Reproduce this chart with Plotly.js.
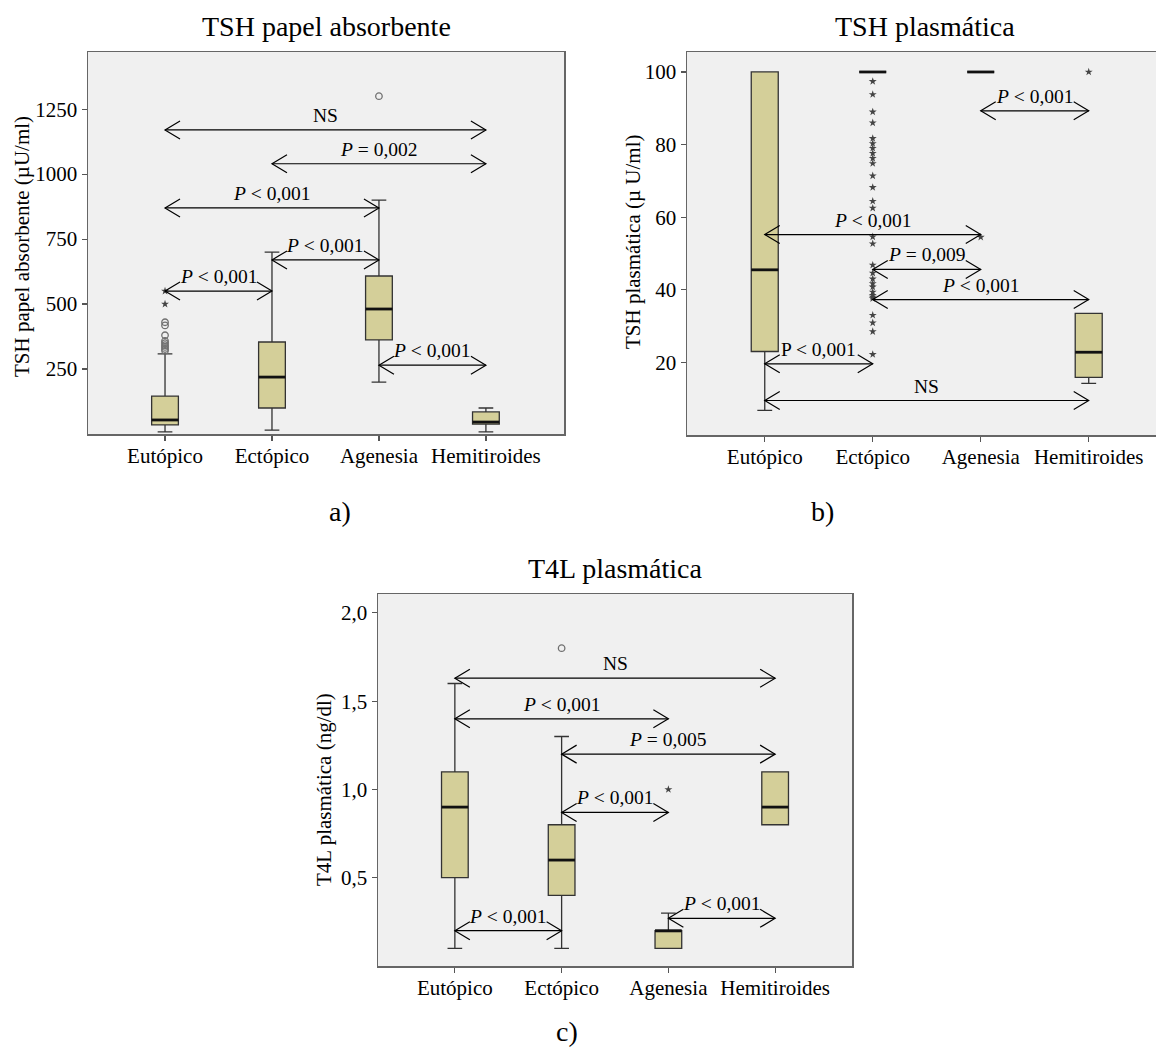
<!DOCTYPE html>
<html><head><meta charset="utf-8">
<script src="https://cdn.plot.ly/plotly-3.0.1.min.js"></script>
<style>html,body{margin:0;padding:0;background:#fff}#chart{width:1156px;height:1048px}</style>
</head><body><div id="chart"></div>
<script>
// ---------- DATA ----------
const categories = ['Eutópico', 'Ectópico', 'Agenesia', 'Hemitiroides'];

// a) TSH papel absorbente
const aQ1 = [35, 100, 362, 38];
const aMedian = [54, 219, 481, 46];
const aQ3 = [146, 354, 608, 85];
const aLow = [8, 15, 200, 8];
const aHigh = [308, 700, 900, 100];
const aCircleCat = [0, 0, 0, 0, 0, 0, 0, 0, 0, 2];
const aCircleVal = [430, 418, 380, 358, 350, 342, 335, 327, 320, 1300];
const aStarCat = [0, 0];
const aStarVal = [500, 550];
const aTickVals = [250, 500, 750, 1000, 1250];
const aTickText = ['250', '500', '750', '1000', '1250'];
const aCmpFrom = [0, 1, 0, 1, 0, 2];
const aCmpTo = [3, 3, 2, 2, 1, 3];
const aCmpY = [1170, 1040, 870, 670, 550, 265];
const aCmpLabel = ['NS', 'P = 0,002', 'P < 0,001', 'P < 0,001', 'P < 0,001', 'P < 0,001'];
const aCmpItalic = [true, true, true, true, true, true];

// b) TSH plasmática
const bQ1 = [23, 100, 100, 15.9];
const bMedian = [45.5, 100, 100, 22.8];
const bQ3 = [100, 100, 100, 33.5];
const bLow = [6.8, 100, 100, 14.2];
const bHigh = [100, 100, 100, 33.5];
const bStarCat = [1,1,1,1,1,1,1,1,1,1,1,1,1,1,1,1,1,1,1,1,1,1,1,1,1,1,1,1,1, 2, 3];
const bStarVal = [97.4, 93.8, 89.0, 86.0, 81.7, 80.3, 79.0, 77.6, 76.2, 74.8, 71.4, 68.2, 64.4, 62.5,
                  54.6, 52.7, 46.8, 44.6, 43.0, 41.7, 40.8, 39.4, 38.5, 38.0, 37.6, 33.0, 30.9, 28.5, 22.2,
                  54.5, 100];
const bTickVals = [20, 40, 60, 80, 100];
const bTickText = ['20', '40', '60', '80', '100'];
const bCmpFrom = [2, 0, 1, 1, 0, 0];
const bCmpTo = [3, 2, 2, 3, 1, 3];
const bCmpY = [89.3, 55.2, 45.6, 37.3, 19.6, 9.5];
const bCmpLabel = ['P < 0,001', 'P < 0,001', 'P = 0,009', 'P < 0,001', 'P < 0,001', 'NS'];
const bCmpItalic = [true, true, true, true, false, true];

// c) T4L plasmática
const cQ1 = [0.5, 0.4, 0.1, 0.8];
const cMedian = [0.9, 0.6, 0.2, 0.9];
const cQ3 = [1.1, 0.8, 0.2, 1.1];
const cLow = [0.1, 0.1, 0.1, 0.8];
const cHigh = [1.6, 1.3, 0.3, 1.1];
const cCircleCat = [1];
const cCircleVal = [1.8];
const cStarCat = [2];
const cStarVal = [1.0];
const cTickVals = [0.5, 1.0, 1.5, 2.0];
const cTickText = ['0,5', '1,0', '1,5', '2,0'];
const cCmpFrom = [0, 0, 1, 1, 0, 2];
const cCmpTo = [3, 2, 3, 2, 1, 3];
const cCmpY = [1.63, 1.40, 1.20, 0.87, 0.20, 0.27];
const cCmpLabel = ['NS', 'P < 0,001', 'P = 0,005', 'P < 0,001', 'P < 0,001', 'P < 0,001'];
const cCmpItalic = [true, true, true, true, true, true];

const panelTitles = ['TSH papel absorbente', 'TSH plasmática', 'T4L plasmática'];
const yTitles = ['TSH papel absorbente (µU/ml)', 'TSH plasmática (µ U/ml)', 'T4L plasmática (ng/dl)'];
const panelLetters = ['a)', 'b)', 'c)'];

// ---------- STYLE ----------
const W = 1156, H = 1048;
const FONT = 'Liberation Serif, Times New Roman, serif';
const BOXFILL = '#d4cf99';
const px = v => v / W;
const py = v => 1 - v / H;

const traces = [];
const shapes = [];
const annotations = [];

function addPanel(ax, q1, med, q3, lo, hi, circCat, circVal, starCat, starVal,
                  cmpFrom, cmpTo, cmpY, cmpLabel, cmpItalic) {
  const xa = 'x' + ax, ya = 'y' + ax;
  const pos = categories.map((c, i) => i);
  traces.push({
    type: 'box', x: pos, q1: q1, median: med, q3: q3, lowerfence: lo, upperfence: hi,
    xaxis: xa, yaxis: ya, width: 0.25, whiskerwidth: 0.55, boxpoints: false,
    fillcolor: BOXFILL, line: {color: '#333', width: 1.3},
    hoverinfo: 'skip', showlegend: false
  });
  // thick median lines
  const mx = [], my = [];
  pos.forEach((p, i) => { mx.push(p - 0.125, p + 0.125, null); my.push(med[i], med[i], null); });
  traces.push({type: 'scatter', mode: 'lines', x: mx, y: my, xaxis: xa, yaxis: ya,
    line: {color: '#111', width: 2.8}, hoverinfo: 'skip', showlegend: false});
  if (circCat.length) traces.push({type: 'scatter', mode: 'markers', x: circCat, y: circVal,
    xaxis: xa, yaxis: ya, marker: {symbol: 'circle-open', size: 6.5, color: '#707070', line: {width: 1.3}},
    hoverinfo: 'skip', showlegend: false});
  if (starCat.length) traces.push({type: 'scatter', mode: 'markers', x: starCat, y: starVal,
    xaxis: xa, yaxis: ya, marker: {symbol: 'star', size: 6, color: '#444'},
    hoverinfo: 'skip', showlegend: false});
  // comparison arrows
  const xr = 'x' + ax, yr = 'y' + ax;
  cmpFrom.forEach((f, i) => {
    const t = cmpTo[i], y = cmpY[i];
    const ln = {color: '#000', width: 1.2};
    shapes.push({type: 'line', xref: xr, yref: yr, x0: f, x1: t, y0: y, y1: y, line: ln});
    shapes.push({type: 'path', xref: xr, yref: yr, xsizemode: 'pixel', ysizemode: 'pixel',
      xanchor: f, yanchor: y, path: 'M15,9L0,0L15,-9', line: ln});
    shapes.push({type: 'path', xref: xr, yref: yr, xsizemode: 'pixel', ysizemode: 'pixel',
      xanchor: t, yanchor: y, path: 'M-15,9L0,0L-15,-9', line: ln});
    let txt = cmpLabel[i].replace('<', '&lt;');
    if (cmpItalic[i] && txt.startsWith('P')) txt = '<i>P</i>' + txt.slice(1);
    annotations.push({xref: xr, yref: yr, x: (f + t) / 2, y: y, yanchor: 'bottom', xanchor: 'center',
      text: txt, showarrow: false, font: {family: FONT, size: 19.5, color: '#000'}, yshift: 2});
  });
}

addPanel('', aQ1, aMedian, aQ3, aLow, aHigh, aCircleCat, aCircleVal, aStarCat, aStarVal,
  aCmpFrom, aCmpTo, aCmpY, aCmpLabel, aCmpItalic);
addPanel('2', bQ1, bMedian, bQ3, bLow, bHigh, [], [], bStarCat, bStarVal,
  bCmpFrom, bCmpTo, bCmpY, bCmpLabel, bCmpItalic);
addPanel('3', cQ1, cMedian, cQ3, cLow, cHigh, cCircleCat, cCircleVal, cStarCat, cStarVal,
  cCmpFrom, cCmpTo, cCmpY, cCmpLabel, cCmpItalic);

function xAxis(domain, range, anchor, mirror) {
  return {domain: domain, range: range, anchor: anchor, tickvals: [0, 1, 2, 3], ticktext: categories,
    tickangle: 0, ticks: 'outside', ticklen: 5, tickwidth: 1.2, tickcolor: '#555', ticklabelstandoff: -3,
    showline: true, linecolor: '#666', linewidth: 1.5, mirror: mirror, showgrid: false, zeroline: false,
    tickfont: {family: FONT, size: 21, color: '#000'}, fixedrange: true};
}
function yAxis(domain, range, anchor, vals, text, mirror) {
  return {domain: domain, range: range, anchor: anchor, tickvals: vals, ticktext: text,
    ticks: 'outside', ticklen: 5, tickwidth: 1.2, tickcolor: '#555',
    showline: true, linecolor: '#666', linewidth: 1.5, mirror: mirror, showgrid: false, zeroline: false,
    tickfont: {family: FONT, size: 21, color: '#000'}, fixedrange: true};
}

// panel titles, y titles, letters
const titlePos = [[326, 27], [925, 27], [615, 568]];
const yTitlePos = [[22, 247], [633, 242], [324, 790]];
const letterPos = [[340, 511], [822, 511], [567, 1031]];
for (let i = 0; i < 3; i++) {
  annotations.push({xref: 'paper', yref: 'paper', x: px(titlePos[i][0]), y: py(titlePos[i][1]),
    xanchor: 'center', yanchor: 'middle', text: panelTitles[i], showarrow: false,
    font: {family: FONT, size: 28, color: '#000'}});
  annotations.push({xref: 'paper', yref: 'paper', x: px(yTitlePos[i][0]), y: py(yTitlePos[i][1]),
    xanchor: 'center', yanchor: 'middle', text: yTitles[i], textangle: -90, showarrow: false,
    font: {family: FONT, size: 21, color: '#000'}});
  annotations.push({xref: 'paper', yref: 'paper', x: px(letterPos[i][0]), y: py(letterPos[i][1]),
    xanchor: 'center', yanchor: 'middle', text: panelLetters[i], showarrow: false,
    font: {family: FONT, size: 28, color: '#000'}});
}

const layout = {
  width: W, height: H, margin: {l: 0, r: 0, t: 0, b: 0},
  paper_bgcolor: '#fff', plot_bgcolor: '#f0f0f0', showlegend: false, boxmode: 'overlay',
  font: {family: FONT, color: '#000'},
  xaxis: xAxis([px(88), px(564)], [-0.72, 3.73], 'y', true),
  yaxis: yAxis([py(434), py(52)], [0, 1470], 'x', aTickVals, aTickText, true),
  xaxis2: xAxis([px(687), 1], [-0.72, 3.623], 'y2', true),
  yaxis2: yAxis([py(435), py(52)], [0, 105.5], 'x2', bTickVals, bTickText, false),
  xaxis3: xAxis([px(378), px(852)], [-0.72, 3.72], 'y3', true),
  yaxis3: yAxis([py(966), py(594)], [0, 2.107], 'x3', cTickVals, cTickText, true),
  shapes: shapes, annotations: annotations
};

Plotly.newPlot('chart', traces, layout, {displayModeBar: false, staticPlot: true});
</script></body></html>
